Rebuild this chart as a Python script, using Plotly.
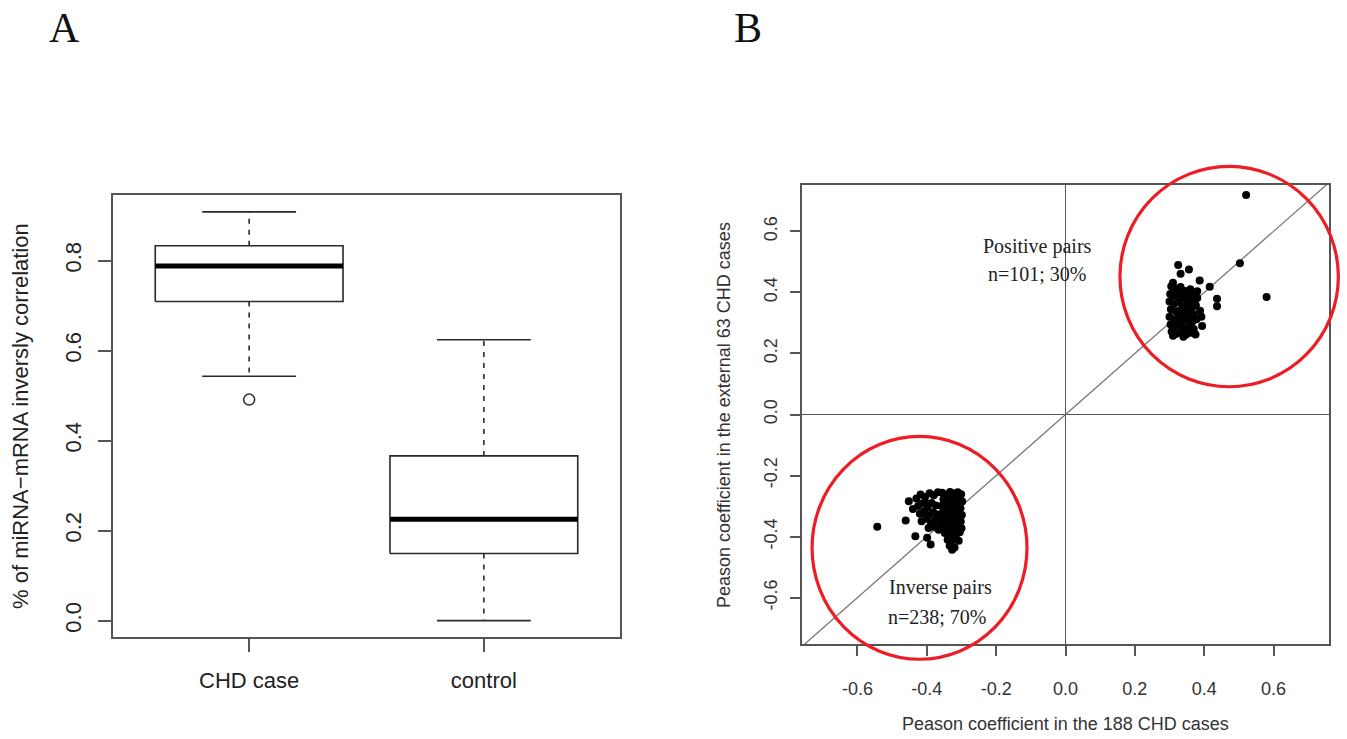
import plotly.graph_objects as go

# ---------------- data ----------------
# Panel A: box plot statistics
categories = ["CHD case", "control"]
upper_whisker = [0.908, 0.624]
q3 = [0.833, 0.366]
median = [0.788, 0.225]
q1 = [0.709, 0.149]
lower_whisker = [0.543, 0.0]
outlier_group = ["CHD case"]
outlier_value = [0.491]

# Panel B: scatter of Pearson coefficients (188 CHD cases vs external 63 CHD cases)
pos_x = [0.521, 0.503, 0.580, 0.325, 0.356, 0.332, 0.387, 0.416, 0.437, 0.437, 0.394, 0.380,
         0.305, 0.318, 0.332, 0.346, 0.360, 0.372,
         0.302, 0.315, 0.328, 0.340, 0.355, 0.368, 0.380,
         0.300, 0.312, 0.326, 0.338, 0.352, 0.365, 0.376,
         0.304, 0.318, 0.330, 0.344, 0.358, 0.370,
         0.300, 0.313, 0.326, 0.339, 0.352, 0.366, 0.378,
         0.303, 0.316, 0.330, 0.343, 0.357, 0.370,
         0.306, 0.320, 0.334, 0.348, 0.362, 0.375,
         0.310, 0.340, 0.325, 0.350, 0.335, 0.388, 0.392, 0.310]
pos_y = [0.719, 0.496, 0.385, 0.490, 0.475, 0.461, 0.439, 0.419, 0.379, 0.355, 0.290, 0.404,
         0.420, 0.412, 0.418, 0.405, 0.410, 0.398,
         0.395, 0.388, 0.392, 0.380, 0.386, 0.375, 0.382,
         0.370, 0.362, 0.368, 0.355, 0.362, 0.350, 0.358,
         0.345, 0.338, 0.342, 0.330, 0.336, 0.328,
         0.320, 0.312, 0.318, 0.306, 0.314, 0.305, 0.312,
         0.295, 0.288, 0.293, 0.282, 0.290, 0.280,
         0.272, 0.265, 0.270, 0.262, 0.268, 0.262,
         0.258, 0.255, 0.300, 0.350, 0.400, 0.340, 0.320, 0.432]

inv_x = [-0.543, -0.452, -0.461, -0.433, -0.399, -0.389, -0.404, -0.327, -0.440,
         -0.430, -0.418, -0.405, -0.392, -0.380, -0.368,
         -0.425, -0.412, -0.398, -0.386, -0.374,
         -0.420, -0.408, -0.395, -0.382, -0.370,
         -0.415, -0.402, -0.388, -0.376, -0.364,
         -0.395, -0.380, -0.366,
         -0.356, -0.344, -0.333, -0.322, -0.311, -0.301,
         -0.352, -0.340, -0.329, -0.318, -0.307, -0.298,
         -0.358, -0.347, -0.336, -0.325, -0.314, -0.303,
         -0.354, -0.343, -0.332, -0.321, -0.310, -0.299,
         -0.357, -0.346, -0.335, -0.324, -0.313, -0.302,
         -0.353, -0.342, -0.331, -0.320, -0.309, -0.300,
         -0.348, -0.337, -0.326, -0.315, -0.305,
         -0.340, -0.329, -0.318, -0.308,
         -0.334, -0.320]
inv_y = [-0.368, -0.284, -0.347, -0.399, -0.404, -0.426, -0.289, -0.443, -0.310,
         -0.275, -0.262, -0.270, -0.258, -0.265, -0.255,
         -0.300, -0.292, -0.305, -0.290, -0.298,
         -0.325, -0.318, -0.330, -0.320, -0.328,
         -0.350, -0.342, -0.355, -0.345, -0.352,
         -0.372, -0.368, -0.378,
         -0.256, -0.262, -0.254, -0.259, -0.255, -0.261,
         -0.278, -0.284, -0.275, -0.281, -0.276, -0.285,
         -0.300, -0.306, -0.297, -0.303, -0.298, -0.307,
         -0.322, -0.328, -0.319, -0.326, -0.320, -0.329,
         -0.344, -0.350, -0.341, -0.348, -0.342, -0.351,
         -0.366, -0.372, -0.363, -0.370, -0.364, -0.373,
         -0.388, -0.394, -0.385, -0.392, -0.386,
         -0.410, -0.416, -0.407, -0.414,
         -0.430, -0.436]

b_ticks = [-0.6, -0.4, -0.2, 0.0, 0.2, 0.4, 0.6]
a_ticks = [0.0, 0.2, 0.4, 0.6, 0.8]

# ---------------- styles / layout constants ----------------
LINE = "#2a2a2a"
AX = "#555555"
SANS = "Liberation Sans, Arial, sans-serif"
SERIF = "Liberation Serif, Times New Roman, serif"
BOXW = 0.4     # half box width
CAPW = 0.2     # half cap width
AX_RANGE = [0.42, 2.58]
AY_RANGE = [-0.0364, 0.9456]
BX_RANGE = [-0.76, 0.76]
BY_RANGE = [-0.752, 0.752]

W, H = 1347, 739
def PX(px):
    return px / W
def PY(py):
    return 1 - py / H

fig = go.Figure()

# ---------------- Panel A ----------------
pos = {c: i + 1 for i, c in enumerate(categories)}
bx, by, mx, my, wx, wy, cx, cy = [], [], [], [], [], [], [], []
for c, uw, a3, md, a1, lw in zip(categories, upper_whisker, q3, median, q1, lower_whisker):
    p = pos[c]
    bx += [p - BOXW, p + BOXW, p + BOXW, p - BOXW, p - BOXW, None]
    by += [a1, a1, a3, a3, a1, None]
    mx += [p - BOXW, p + BOXW, None]
    my += [md, md, None]
    wx += [p, p, None, p, p, None]
    wy += [a3, uw, None, a1, lw, None]
    cx += [p - CAPW, p + CAPW, None, p - CAPW, p + CAPW, None]
    cy += [uw, uw, None, lw, lw, None]

fig.add_trace(go.Scatter(x=wx, y=wy, mode="lines", line=dict(color=LINE, width=1.6, dash="5px,6px"),
                         xaxis="x", yaxis="y", hoverinfo="skip", showlegend=False))
fig.add_trace(go.Scatter(x=cx, y=cy, mode="lines", line=dict(color=LINE, width=1.6),
                         xaxis="x", yaxis="y", hoverinfo="skip", showlegend=False))
fig.add_trace(go.Scatter(x=bx, y=by, mode="lines", line=dict(color=LINE, width=1.6),
                         fill="toself", fillcolor="white",
                         xaxis="x", yaxis="y", hoverinfo="skip", showlegend=False))
fig.add_trace(go.Scatter(x=mx, y=my, mode="lines", line=dict(color="#000000", width=5),
                         xaxis="x", yaxis="y", hoverinfo="skip", showlegend=False))
fig.add_trace(go.Scatter(x=[pos[g] for g in outlier_group], y=outlier_value, mode="markers",
                         marker=dict(symbol="circle-open", size=11, color=LINE, line=dict(width=1.5)),
                         xaxis="x", yaxis="y", hoverinfo="skip", showlegend=False))

# ---------------- Panel B ----------------
fig.add_trace(go.Scatter(x=[BX_RANGE[0], BX_RANGE[1]], y=[BX_RANGE[0], BX_RANGE[1]], mode="lines",
                         line=dict(color="#777777", width=1.3),
                         xaxis="x2", yaxis="y2", hoverinfo="skip", showlegend=False))
fig.add_trace(go.Scatter(x=pos_x, y=pos_y, mode="markers",
                         marker=dict(color="#000000", size=8),
                         xaxis="x2", yaxis="y2", showlegend=False))
fig.add_trace(go.Scatter(x=inv_x, y=inv_y, mode="markers",
                         marker=dict(color="#000000", size=8),
                         xaxis="x2", yaxis="y2", showlegend=False))

# red circles (center x, center y, radius x, radius y in data units), drawn unclipped
circles = [(0.472, 0.452, 0.315, 0.361), (-0.421, -0.437, 0.310, 0.365)]
def fx(v):
    return (v - BX_RANGE[0]) / (BX_RANGE[1] - BX_RANGE[0])
def fy(v):
    return (v - BY_RANGE[0]) / (BY_RANGE[1] - BY_RANGE[0])
shapes = []
for (ccx, ccy, rx, ry) in circles:
    shapes.append(dict(type="circle", xref="x2 domain", yref="y2 domain",
                       x0=fx(ccx - rx), x1=fx(ccx + rx), y0=fy(ccy - ry), y1=fy(ccy + ry),
                       line=dict(color="#ee1c24", width=3.2), layer="above"))

axis_common = dict(showline=True, mirror=True, linecolor=AX, linewidth=1.6, showgrid=False,
                   ticks="outside", tickcolor=AX, tickwidth=1.6)

fig.update_layout(
    width=W, height=H,
    margin=dict(l=0, r=0, t=0, b=0),
    paper_bgcolor="white", plot_bgcolor="white",
    showlegend=False,
    xaxis=dict(domain=[PX(113), PX(620)], range=AX_RANGE, tickmode="array",
               tickvals=[pos[c] for c in categories], ticktext=categories,
               zeroline=False, ticklen=13, ticklabelstandoff=10,
               tickfont=dict(family=SANS, size=22, color="#222"), anchor="y", **axis_common),
    yaxis=dict(domain=[PY(637), PY(195)], range=AY_RANGE, tickmode="array",
               tickvals=a_ticks, ticktext=[f"{v:.1f}" for v in a_ticks], tickangle=-90,
               zeroline=False, ticklen=13, ticklabelstandoff=8,
               tickfont=dict(family=SANS, size=22, color="#222"), anchor="x", **axis_common),
    xaxis2=dict(domain=[PX(802), PX(1329)], range=BX_RANGE, tickmode="array",
                tickvals=b_ticks, ticktext=[f"{v:.1f}" for v in b_ticks],
                zeroline=True, zerolinecolor="#555555", zerolinewidth=1.4,
                ticklen=10, ticklabelstandoff=18,
                tickfont=dict(family=SANS, size=18, color="#333"), anchor="y2", **axis_common),
    yaxis2=dict(domain=[PY(644), PY(185)], range=BY_RANGE, tickmode="array",
                tickvals=b_ticks, ticktext=[f"{v:.1f}" for v in b_ticks], tickangle=-90,
                zeroline=True, zerolinecolor="#555555", zerolinewidth=1.4,
                ticklen=10, ticklabelstandoff=6,
                tickfont=dict(family=SANS, size=18, color="#333"), anchor="x2", **axis_common),
    shapes=shapes,
    annotations=[
        dict(text="A", x=PX(64), y=PY(28), xref="paper", yref="paper", showarrow=False,
             font=dict(family=SERIF, size=42, color="#111"), xanchor="center", yanchor="middle"),
        dict(text="B", x=PX(748), y=PY(28), xref="paper", yref="paper", showarrow=False,
             font=dict(family=SERIF, size=42, color="#111"), xanchor="center", yanchor="middle"),
        dict(text="% of miRNA\u2212mRNA inversly correlation", x=PX(20), y=PY(416),
             xref="paper", yref="paper", showarrow=False, textangle=-90,
             font=dict(family=SANS, size=22, color="#222"), xanchor="center", yanchor="middle"),
        dict(text="Peason coefficient in the external 63 CHD cases", x=PX(724), y=PY(415),
             xref="paper", yref="paper", showarrow=False, textangle=-90,
             font=dict(family=SANS, size=18, color="#333"), xanchor="center", yanchor="middle"),
        dict(text="Peason coefficient in the 188 CHD cases", x=PX(1065), y=PY(724),
             xref="paper", yref="paper", showarrow=False,
             font=dict(family=SANS, size=18, color="#333"), xanchor="center", yanchor="middle"),
        dict(text="Positive pairs", x=-0.08, y=0.551, xref="x2", yref="y2", showarrow=False,
             font=dict(family=SERIF, size=20, color="#222")),
        dict(text="n=101; 30%", x=-0.08, y=0.459, xref="x2", yref="y2", showarrow=False,
             font=dict(family=SERIF, size=20, color="#222")),
        dict(text="Inverse pairs", x=-0.36, y=-0.567, xref="x2", yref="y2", showarrow=False,
             font=dict(family=SERIF, size=20, color="#222")),
        dict(text="n=238; 70%", x=-0.37, y=-0.662, xref="x2", yref="y2", showarrow=False,
             font=dict(family=SERIF, size=20, color="#222")),
    ],
)

# remove the browser's default 8px page margin so the figure fills the window exactly
fig.write_html("out.html", config={"displayModeBar": False},
               post_script="document.body.style.margin='0px';")
